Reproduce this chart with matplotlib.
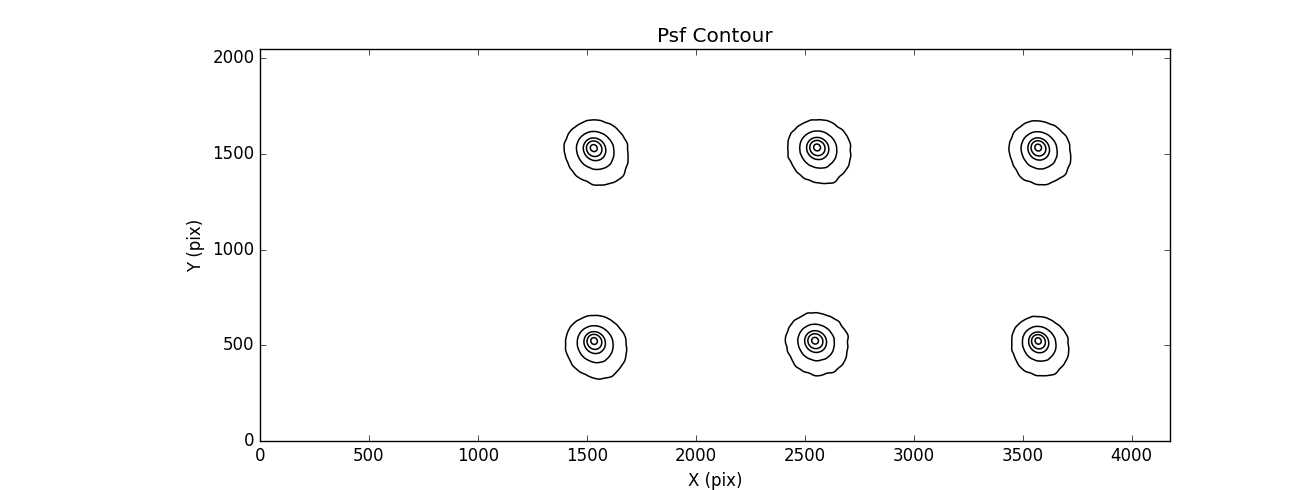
import numpy as np
import matplotlib
matplotlib.use("Agg")
import matplotlib.pyplot as plt

plt.style.use("classic")

# ---- data ----
star_x = [1530, 2555, 3570, 1532, 2546, 3570]          # PSF centre x (pix)
star_y = [1533, 1536, 1536, 526, 526, 526]             # PSF centre y (pix)
outer_r = [31.5, 31.2, 30.5, 30.0, 30.8, 28.3]         # outer contour radius (screen px)
skew_amp = [0.17, 0.15, 0.18, 0.21, 0.13, 0.20]        # egg-shape skew of contours
skew_ang = [-57, -59, -72, -72, -58, -73]              # direction of skew (deg)
elong_amp = [0.04, 0.03, 0.04, 0.03, 0.03, 0.04]       # elongation
elong_ang = [-45, -40, -50, -45, -40, -50]             # elongation direction (deg)
# small irregularities of the outer contours: harmonic orders, amps, phases
wob_n = [3, 5, 8, 11, 15, 22]
wob_amp = [
    [0.012, 0.010, 0.008, 0.006, 0.005, 0.004],
    [0.015, 0.008, 0.010, 0.006, 0.006, 0.005],
    [0.012, 0.012, 0.008, 0.008, 0.005, 0.004],
    [0.010, 0.008, 0.006, 0.005, 0.004, 0.003],
    [0.012, 0.012, 0.010, 0.009, 0.008, 0.005],
    [0.012, 0.010, 0.008, 0.006, 0.005, 0.004],
]
wob_phase = [
    [0.3, 1.2, 2.5, 0.7, 1.9, 0.4],
    [1.0, 2.2, 0.4, 2.9, 1.1, 2.0],
    [2.1, 0.5, 1.7, 0.2, 2.6, 1.3],
    [0.8, 2.7, 1.3, 2.0, 0.6, 2.8],
    [1.6, 0.9, 2.3, 1.4, 0.1, 0.9],
    [2.4, 1.8, 0.6, 2.2, 1.5, 1.7],
]
levels = [0.008, 0.05, 0.2, 0.4, 0.8]
moffat_beta = 2.0

x_ticks = [0, 500, 1000, 1500, 2000, 2500, 3000, 3500, 4000]
y_ticks = [0, 500, 1000, 1500, 2000]
x_max, y_max = 4176, 2048

# ---- figure ----
fig = plt.figure(figsize=(13, 4.9), dpi=100, facecolor="white")
ax = fig.add_axes([0.2, 0.1, 0.7, 0.8])
ax.set_facecolor("white")

# screen-pixel to data-unit factors for this axes
px_x = x_max / (0.7 * 1300)
px_y = y_max / (0.8 * 490)

gx = np.arange(0, x_max + 1, 3.0)
gy = np.arange(0, y_max + 1, 3.0)
X, Y = np.meshgrid(gx, gy)
Z = np.zeros_like(X)

r_lev0 = np.sqrt(levels[0] ** (-1.0 / moffat_beta) - 1.0)
for i in range(len(star_x)):
    alpha = outer_r[i] / r_lev0
    u = (X - star_x[i]) / (alpha * px_x)
    v = (Y - star_y[i]) / (alpha * px_y)
    r = np.hypot(u, v)
    th = np.arctan2(v, u)
    fac = 1.0 - skew_amp[i] * np.cos(th - np.deg2rad(skew_ang[i]))
    fac -= elong_amp[i] * np.cos(2 * (th - np.deg2rad(elong_ang[i])))
    w = np.clip(r / r_lev0, 0, 1.0) ** 2
    for n, a, p in zip(wob_n, wob_amp[i], wob_phase[i]):
        fac += w * a * np.cos(n * th + p)
    re = r * fac
    Z += (1.0 + re ** 2) ** (-moffat_beta)

ax.contour(X, Y, Z, levels=levels, colors="k", linewidths=1.1)

ax.set_xlim(0, x_max)
ax.set_ylim(0, y_max)
ax.set_xticks(x_ticks)
ax.set_yticks(y_ticks)
ax.set_xlabel("X (pix)")
ax.set_ylabel("Y (pix)")
ax.set_title("Psf Contour")

fig.savefig("out.png", dpi=100, facecolor="white")
